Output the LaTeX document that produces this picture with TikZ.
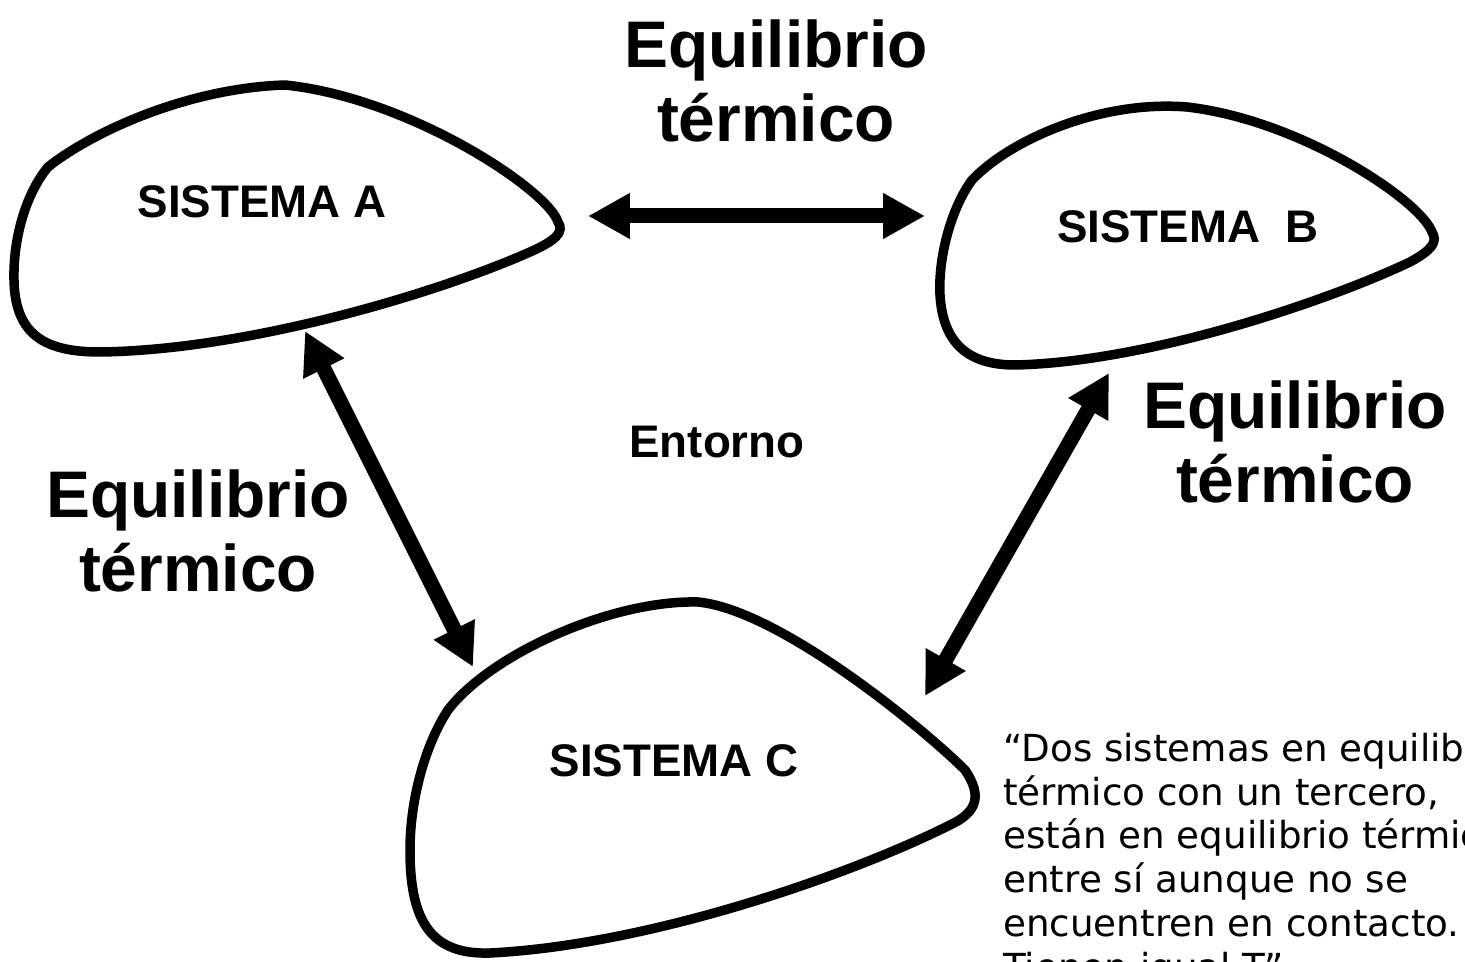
\documentclass[tikz,border=0pt]{standalone}
\usepackage{fontspec}
\setmainfont{Liberation Sans}
\newfontfamily\quotefont{DejaVu Sans}
\usetikzlibrary{arrows.meta}

\begin{document}
\begin{tikzpicture}[x=0.02cm,y=-0.02cm,
	blob/.style={line width=0.19cm,line join=round},
	twoway/.style={line width=0.3cm,{Triangle[length=0.84cm,width=0.86cm]}-{Triangle[length=0.84cm,width=0.86cm]}},
	syslabel/.style={font=\bfseries\fontsize{26}{30}\selectfont,anchor=base,inner sep=0pt},
	eqlabel/.style={font=\bfseries\fontsize{37.5}{42.5}\selectfont,align=center,anchor=base,inner sep=0pt}]
	\useasboundingbox (0,0) rectangle (1465,962);
	\clip (0,0) rectangle (1465,962);

	% los tres sistemas
	\draw[blob] (100,352) .. controls (250,350) and (440,292) .. (530,252)
		.. controls (555,241) and (565,232) .. (558,222)
		.. controls (548,190) and (410,98) .. (285,85)
		.. controls (190,88) and (95,130) .. (48,167)
		.. controls (25,195) and (13,240) .. (14,280)
		.. controls (15,335) and (45,352) .. (100,352) -- cycle;
	\draw[blob] (1015,365) .. controls (1150,362) and (1330,300) .. (1410,262)
		.. controls (1432,250) and (1438,242) .. (1432,232)
		.. controls (1420,200) and (1300,120) .. (1187,107)
		.. controls (1100,100) and (1010,140) .. (972,180)
		.. controls (950,210) and (938,260) .. (940,295)
		.. controls (943,345) and (970,365) .. (1015,365) -- cycle;
	\draw[blob] (698,602) .. controls (780,610) and (925,730) .. (965,770)
		.. controls (982,795) and (978,812) .. (950,825)
		.. controls (850,875) and (650,945) .. (490,953)
		.. controls (430,955) and (410,920) .. (410,850)
		.. controls (410,800) and (425,745) .. (448,710)
		.. controls (490,655) and (610,600) .. (698,602) -- cycle;

	\node[syslabel] (sisA) at (262,218) {SISTEMA A};
	\node[syslabel] (sisB) at (1188,243) {SISTEMA\ \ B};
	\node[syslabel] (sisC) at (674,777) {SISTEMA C};
	\node[syslabel] (entorno) at (717,458) {Entorno};

	% puntos de contacto
	\coordinate (aE) at (588,216);
	\coordinate (bW) at (925,216);
	\coordinate (aS) at (305,331);
	\coordinate (cNW) at (473,667);
	\coordinate (bS) at (1109,373);
	\coordinate (cNE) at (925,696);

	\draw[twoway] (aE) -- (bW);
	\draw[twoway] (aS) -- (cNW);
	\draw[twoway] (bS) -- (cNE);

	\node[eqlabel] (eqAB) at (776,142) {Equilibrio\\térmico};
	\node[eqlabel] (eqAC) at (198,592) {Equilibrio\\térmico};
	\node[eqlabel] (eqBC) at (1295,503) {Equilibrio\\térmico};

	\node[font=\quotefont\fontsize{21.2}{24.9}\selectfont,align=left,anchor=base west,inner sep=0pt] (ley) at (1003,980)
		{“Dos sistemas en equilibrio\\térmico con un tercero,\\están en equilibrio térmico\\entre sí aunque no se\\encuentren en contacto.\\Tienen igual T”};
\end{tikzpicture}
\end{document}
